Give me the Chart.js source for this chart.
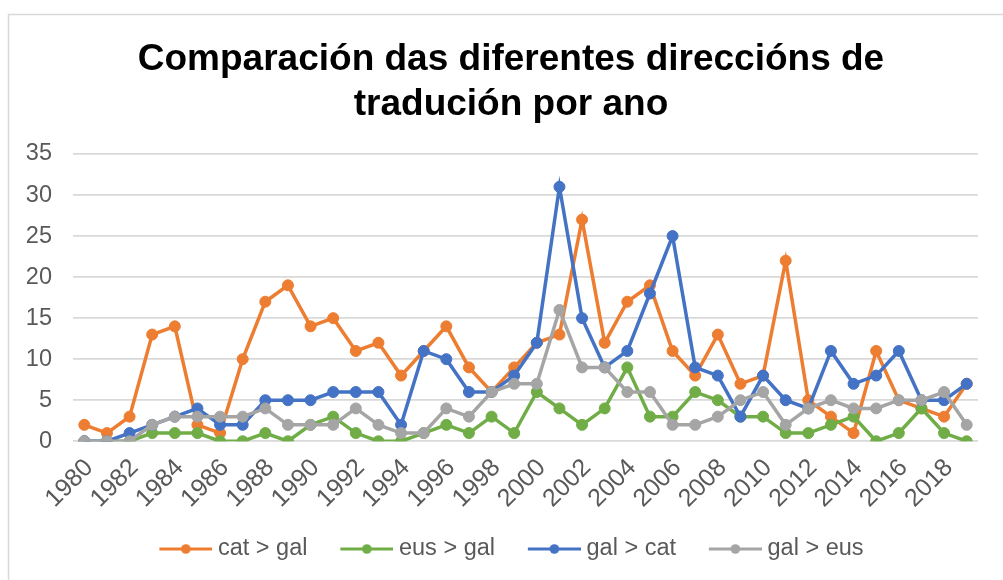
<!DOCTYPE html>
<html>
<head>
<meta charset="utf-8">
<script src="https://cdn.jsdelivr.net/npm/chart.js@4.4.1/dist/chart.umd.min.js"></script>
<style>
  html, body { margin: 0; padding: 0; background: #ffffff; }
  #wrap { width: 1003px; height: 580px; position: relative; }
</style>
</head>
<body>
<div id="wrap"><canvas id="c" width="1003" height="580"></canvas></div>
<script>
const years = ["1980","1981","1982","1983","1984","1985","1986","1987","1988","1989",
  "1990","1991","1992","1993","1994","1995","1996","1997","1998","1999",
  "2000","2001","2002","2003","2004","2005","2006","2007","2008","2009",
  "2010","2011","2012","2013","2014","2015","2016","2017","2018","2019"];
const catGal = [2,1,3,13,14,2,1,10,17,19, 14,15,11,12,8,11,14,9,6,9, 12,13,27,12,17,19,11,8,13,7, 8,22,5,3,1,11,5,4,3,7];
const eusGal = [0,0,0,1,1,1,0,0,1,0, 2,3,1,0,0,1,2,1,3,1, 6,4,2,4,9,3,3,6,5,3, 3,1,1,2,3,0,1,4,1,0];
const galCat = [0,0,1,2,3,4,2,2,5,5, 5,6,6,6,2,11,10,6,6,8, 12,31,15,9,11,18,25,9,8,3, 8,5,4,11,7,8,11,5,5,7];
const galEus = [0,0,0,2,3,3,3,3,4,2, 2,2,4,2,1,1,4,3,6,7, 7,16,9,9,6,6,2,2,3,5, 6,2,4,5,4,4,5,5,6,2];
const seriesNames = ["cat > gal", "eus > gal", "gal > cat", "gal > eus"];
const yTicks = [0, 5, 10, 15, 20, 25, 30, 35];
const titleLines = ["Comparación das diferentes direccións de", "tradución por ano"];

const colors = ["#ED7D31", "#70AD47", "#4472C4", "#A5A5A5"];
const FONT = "'Liberation Sans', Arial, sans-serif";

// legend geometry
const LEG_PAD = 10;
const LEG_FONT = 23.5;
const LEG_BOX = 69.75;            // pointStyleWidth
const ICON_W = LEG_BOX + 12.5;    // icon canvas width (left part transparent)

function legendIcon(color) {
  const cv = document.createElement('canvas');
  cv.width = Math.round(ICON_W); cv.height = 12;
  const g = cv.getContext('2d');
  const x1 = cv.width, x0 = cv.width - 53;
  g.strokeStyle = color; g.lineWidth = 3.2;
  g.beginPath(); g.moveTo(x0, 6); g.lineTo(x1, 6); g.stroke();
  g.fillStyle = color;
  g.beginPath(); g.arc((x0 + x1) / 2, 6, 4.8, 0, Math.PI * 2); g.fill();
  return cv;
}
const icons = colors.map(legendIcon);

function ds(i, data) {
  return {
    label: seriesNames[i],
    data: data,
    borderColor: colors[i],
    backgroundColor: colors[i],
    pointBackgroundColor: colors[i],
    pointBorderColor: colors[i],
    borderWidth: 3.5,
    pointRadius: 5.5,
    pointHoverRadius: 5.5,
    pointBorderWidth: 1,
    tension: 0,
    fill: false,
    order: 4 - i
  };
}

const framePlugin = {
  id: 'frame',
  beforeDraw(chart) {
    const ctx = chart.ctx;
    ctx.save();
    ctx.fillStyle = '#ffffff';
    ctx.fillRect(0, 0, chart.width, chart.height);
    ctx.strokeStyle = '#D9D9D9';
    ctx.lineWidth = 1.5;
    ctx.strokeRect(8.5, 14.5, 1100, 700);
    ctx.restore();
  },
  afterLayout(chart) {
    if (chart.titleBlock) { chart.titleBlock.left += 22; chart.titleBlock.right += 22; }
    if (chart.legend) { chart.legend.left += 11; chart.legend.right += 11; }
  }
};

new Chart(document.getElementById('c'), {
  type: 'line',
  data: {
    labels: years,
    datasets: [ds(0, catGal), ds(1, eusGal), ds(2, galCat), ds(3, galEus)]
  },
  plugins: [framePlugin],
  options: {
    responsive: false,
    animation: false,
    layout: { padding: { left: 0, right: 25, top: 0, bottom: 9.25 } },
    plugins: {
      tooltip: { enabled: false },
      title: {
        display: true,
        text: titleLines,
        color: '#000000',
        font: { family: FONT, size: 37, weight: 'bold', lineHeight: 1.216 },
        padding: { top: 37, bottom: 27 }
      },
      legend: {
        position: 'bottom',
        labels: {
          usePointStyle: true,
          pointStyleWidth: LEG_BOX,
          padding: LEG_PAD,
          color: '#595959',
          font: { family: FONT, size: LEG_FONT },
          sort: (a, b) => a.datasetIndex - b.datasetIndex,
          generateLabels(chart) {
            const items = Chart.defaults.plugins.legend.labels.generateLabels(chart);
            items.forEach(it => { it.pointStyle = icons[it.datasetIndex]; });
            return items;
          }
        }
      }
    },
    scales: {
      x: {
        type: 'category',
        offset: true,
        grid: { display: false, drawTicks: false },
        border: { display: false },
        ticks: {
          autoSkip: false,
          maxRotation: 45,
          minRotation: 45,
          padding: 12,
          labelOffset: 5,
          color: '#595959',
          font: { family: FONT, size: 25 },
          callback: function (value, index) {
            return index % 2 === 0 ? this.getLabelForValue(value) : null;
          }
        },
        afterFit(scale) { scale.height = 86; }
      },
      y: {
        min: 0,
        max: 35,
        afterBuildTicks(scale) { scale.ticks = yTicks.map(v => ({ value: v })); },
        grid: { color: '#D9D9D9', lineWidth: 1.8, drawTicks: false },
        border: { display: false },
        ticks: {
          padding: 21,
          color: '#595959',
          font: { family: FONT, size: 23.5 }
        },
        afterFit(scale) { scale.width = 73; }
      }
    }
  }
});
</script>
</body>
</html>
